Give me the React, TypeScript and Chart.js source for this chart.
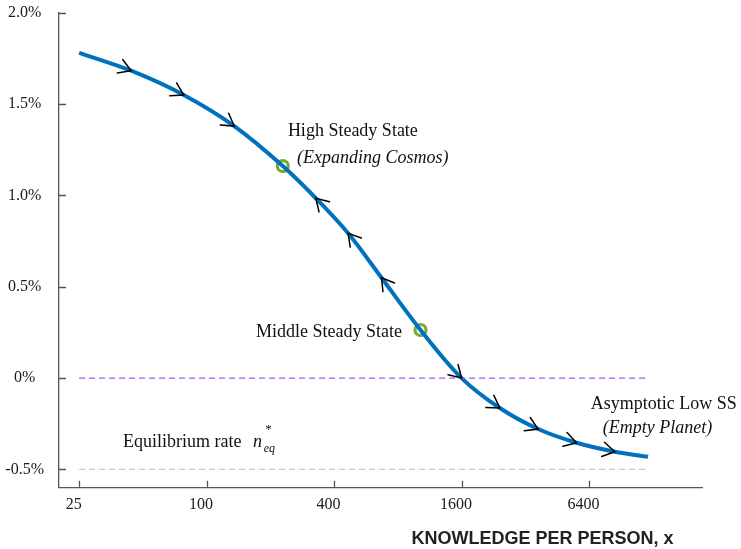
import React, { useEffect, useRef } from "react";
import { Chart, registerables } from "chart.js";

Chart.register(...registerables);

// ---- data ----
const knowledgeX = [25, 44, 78, 135, 229, 328, 466, 670, 1024, 1600, 2425, 3680, 5585, 8470, 12160];
const growthRate = [1.78, 1.682, 1.549, 1.379, 1.16, 0.984, 0.792, 0.549, 0.263, 0.0, -0.164, -0.279, -0.354, -0.403, -0.431];
const steadyStateX = [229, 1024];
const steadyStateY = [1.16, 0.263];
const arrowIndex = [1, 2, 3, 5, 6, 7, 9, 10, 11, 12, 13];
const arrowDirection = [1, 1, 1, -1, -1, -1, 1, 1, 1, 1, 1];
const xTicks = [25, 100, 400, 1600, 6400];
const yTicks = [-0.5, 0, 0.5, 1, 1.5, 2];
const yTickLabels = ["-0.5%", "0%", "0.5%", "1.0%", "1.5%", "2.0%"];
const zeroLineY = [0, 0];
const equilibriumY = [-0.5, -0.5];
const refLineX = [25, 12160];
const xMin = Math.exp(3);
const xMax = Math.exp(10);
const yMin = -0.6;
const yMax = 2.0;

const SERIF = "'Liberation Serif', 'Times New Roman', serif";

const annotationPlugin = {
  id: "annotations",
  afterDatasetsDraw(chart: any) {
    const ctx = chart.ctx;
    const xs = chart.scales.x;
    const ys = chart.scales.y;
    const area = chart.chartArea;

    // inward tick marks
    ctx.save();
    ctx.strokeStyle = "#555";
    ctx.lineWidth = 1.3;
    ctx.beginPath();
    xTicks.forEach((v) => {
      const px = Math.round(xs.getPixelForValue(v)) + 0.5;
      ctx.moveTo(px, area.bottom);
      ctx.lineTo(px, area.bottom - 7);
    });
    yTicks.forEach((v) => {
      const py = Math.round(ys.getPixelForValue(v)) + 0.5;
      ctx.moveTo(area.left, py);
      ctx.lineTo(area.left + 7, py);
    });
    ctx.stroke();
    ctx.restore();

    // direction arrows
    const meta = chart.getDatasetMeta(2);
    const pts = meta.data;
    ctx.save();
    ctx.strokeStyle = "#000";
    ctx.lineWidth = 1.5;
    ctx.lineCap = "round";
    arrowIndex.forEach((idx, k) => {
      const p = pts[idx];
      const prev = pts[Math.max(0, idx - 1)];
      const next = pts[Math.min(pts.length - 1, idx + 1)];
      let dx = next.x - prev.x;
      let dy = next.y - prev.y;
      const len = Math.hypot(dx, dy) || 1;
      dx = (dx / len) * arrowDirection[k];
      dy = (dy / len) * arrowDirection[k];
      const bx = -dx;
      const by = -dy;
      const L = 14;
      const th = (31 * Math.PI) / 180;
      const c = Math.cos(th);
      const s = Math.sin(th);
      const a1x = bx * c - by * s;
      const a1y = bx * s + by * c;
      const a2x = bx * c + by * s;
      const a2y = -bx * s + by * c;
      ctx.beginPath();
      ctx.moveTo(p.x + a1x * L, p.y + a1y * L);
      ctx.lineTo(p.x, p.y);
      ctx.lineTo(p.x + a2x * L, p.y + a2y * L);
      ctx.stroke();
    });
    ctx.restore();

    // text annotations
    ctx.save();
    ctx.fillStyle = "#111";
    ctx.textBaseline = "alphabetic";
    ctx.textAlign = "left";
    const put = (t: string, x: number, y: number, italic: boolean, size = 18) => {
      ctx.font = `${italic ? "italic " : ""}${size}px ${SERIF}`;
      ctx.fillText(t, xs.getPixelForValue(x), ys.getPixelForValue(y));
    };
    put("High Steady State", 242, 1.326, false);
    put("(Expanding Cosmos)", 267, 1.177, true);
    put("Middle Steady State", 171, 0.226, false);
    put("Asymptotic Low SS", 6520, -0.17, false);
    put("(Empty Planet)", 7430, -0.303, true);
    put("Equilibrium rate", 40.3, -0.378, false);
    put("n", 165.5, -0.378, true);
    put("*", 189, -0.30, false, 13);
    put("eq", 186, -0.404, true, 12);

    // x axis title
    ctx.font = `bold 18px 'Liberation Sans', Arial, sans-serif`;
    ctx.fillStyle = "#222";
    ctx.textAlign = "right";
    ctx.textBaseline = "middle";
    ctx.fillText("KNOWLEDGE PER PERSON, x", 673.5, 539);
    ctx.restore();
  },
};

export default function App() {
  const ref = useRef<HTMLCanvasElement | null>(null);

  useEffect(() => {
    if (!ref.current) return;
    const curve = knowledgeX.map((x, i) => ({ x, y: growthRate[i] }));
    const markers = steadyStateX.map((x, i) => ({ x, y: steadyStateY[i] }));
    const zeroLine = refLineX.map((x, i) => ({ x, y: zeroLineY[i] }));
    const eqLine = refLineX.map((x, i) => ({ x, y: equilibriumY[i] }));

    const chart = new Chart(ref.current, {
      type: "line",
      data: {
        datasets: [
          {
            data: zeroLine,
            borderColor: "rgb(170, 90, 240)",
            borderWidth: 1.3,
            borderDash: [6, 4],
            pointRadius: 0,
          },
          {
            data: eqLine,
            borderColor: "rgb(200, 200, 200)",
            borderWidth: 1.3,
            borderDash: [6, 4],
            pointRadius: 0,
          },
          {
            data: curve,
            borderColor: "#0072BD",
            borderWidth: 4,
            pointRadius: 0,
            cubicInterpolationMode: "monotone",
            borderCapStyle: "butt",
          },
          {
            data: markers,
            showLine: false,
            pointStyle: "circle",
            pointRadius: 5.5,
            pointBorderWidth: 3.2,
            pointBorderColor: "#77AC30",
            pointBackgroundColor: "rgba(0,0,0,0)",
          },
        ],
      },
      options: {
        responsive: false,
        animation: false,
        layout: { padding: { top: 12.6, right: 38.3, left: 0, bottom: 0 } },
        plugins: { legend: { display: false }, tooltip: { enabled: false } },
        scales: {
          x: {
            type: "logarithmic",
            min: xMin,
            max: xMax,
            afterBuildTicks: (scale: any) => {
              scale.ticks = xTicks.map((v) => ({ value: v }));
            },
            afterFit: (scale: any) => {
              scale.height = 61.3;
              scale.paddingLeft = 0;
              scale.paddingRight = 0;
            },
            grid: { display: false, drawTicks: false },
            border: { display: true, color: "#555", width: 1.3 },
            ticks: {
              autoSkip: false,
              maxRotation: 0,
              padding: 7,
              labelOffset: -5.5,
              color: "#1a1a1a",
              font: { family: SERIF, size: 16 },
              callback: (v: any) => String(v),
            },
          },
          y: {
            type: "linear",
            min: yMin,
            max: yMax,
            afterBuildTicks: (scale: any) => {
              scale.ticks = yTicks.map((v) => ({ value: v }));
            },
            afterFit: (scale: any) => {
              scale.width = 59;
              scale.paddingTop = 0;
              scale.paddingBottom = 0;
            },
            grid: { display: false, drawTicks: false },
            border: { display: true, color: "#555", width: 1.3 },
            ticks: {
              crossAlign: "center",
              padding: 15,
              color: "#1a1a1a",
              font: { family: SERIF, size: 16 },
              callback: (v: any) => {
                const i = yTicks.findIndex((t) => Math.abs(t - Number(v)) < 1e-9);
                return i >= 0 ? yTickLabels[i] : "";
              },
            },
          },
        },
      },
      plugins: [annotationPlugin],
    } as any);

    return () => chart.destroy();
  }, []);

  return (
    <div style={{ position: "fixed", left: 0, top: 0, width: 741, height: 549, background: "#fff" }}>
      <canvas ref={ref} width={741} height={549} style={{ display: "block" }} />
    </div>
  );
}
